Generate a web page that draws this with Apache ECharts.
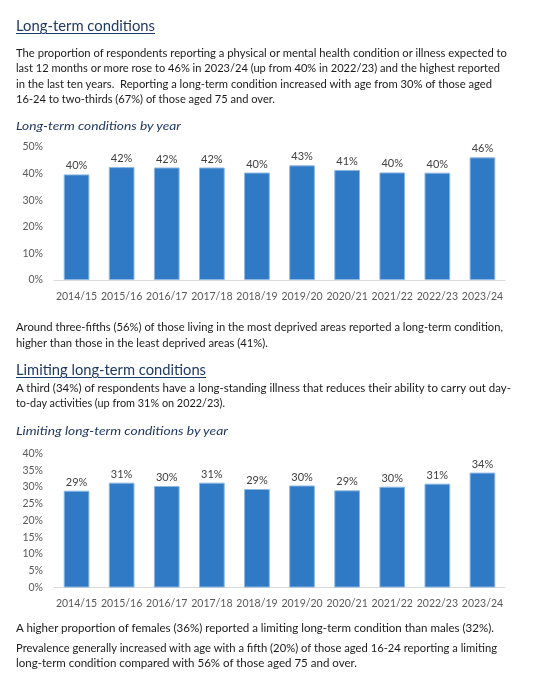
<!DOCTYPE html>
<html><head><meta charset="utf-8">
<script src="https://cdn.jsdelivr.net/npm/echarts@6/dist/echarts.min.js"></script>
<style>
html,body{margin:0;padding:0;background:#fff;}
#page{position:relative;width:533px;height:676px;overflow:hidden;}
#chart{position:absolute;left:0;top:0;width:533px;height:676px;}
.ln{position:absolute;left:16px;white-space:nowrap;font-family:Lato,"Noto Sans",sans-serif;color:#1a1a1a;transform-origin:0 50%;display:inline-block;}
.body{font-size:11px;line-height:14px;}
.ttl{font-size:15.5px;line-height:18px;color:#1f3864;text-decoration:underline;text-decoration-thickness:1px;text-underline-offset:2px;}
.sub{font-size:12px;line-height:15px;color:#1f3864;font-style:italic;}
</style></head>
<body><div id="page">
<div id="chart"></div>
<div class="ln ttl" data-w="139" style="top:16px">Long-term conditions</div>
<div class="ln body" data-w="491" style="top:46px">The proportion of respondents reporting a physical or mental health condition or illness expected to</div>
<div class="ln body" data-w="484" style="top:61.4px">last 12 months or more rose to 46% in 2023/24 (up from 40% in 2022/23) and the highest reported</div>
<div class="ln body" data-w="476" style="top:76.8px">in the last ten years.&nbsp; Reporting a long-term condition increased with age from 30% of those aged</div>
<div class="ln body" data-w="259" style="top:92.2px">16-24 to two-thirds (67%) of those aged 75 and over.</div>
<div class="ln sub" data-w="165" style="top:117.5px">Long-term conditions by year</div>
<div class="ln body" data-w="487" style="top:319.7px">Around three-fifths (56%) of those living in the most deprived areas reported a long-term condition,</div>
<div class="ln body" data-w="252" style="top:335.5px">higher than those in the least deprived areas (41%).</div>
<div class="ln ttl" data-w="190" style="top:360px">Limiting long-term conditions</div>
<div class="ln body" data-w="495" style="top:381px">A third (34%) of respondents have a long-standing illness that reduces their ability to carry out day-</div>
<div class="ln body" data-w="209" style="top:396.3px">to-day activities (up from 31% on 2022/23).</div>
<div class="ln sub" data-w="212" style="top:422.5px">Limiting long-term conditions by year</div>
<div class="ln body" data-w="478" style="top:621px">A higher proportion of females (36%) reported a limiting long-term condition than males (32%).</div>
<div class="ln body" data-w="481" style="top:641px">Prevalence generally increased with age with a fifth (20%) of those aged 16-24 reporting a limiting</div>
<div class="ln body" data-w="341" style="top:656.4px">long-term condition compared with 56% of those aged 75 and over.</div>
</div>
<script>
const years = ['2014/15','2015/16','2016/17','2017/18','2018/19','2019/20','2020/21','2021/22','2022/23','2023/24'];
const longTerm = [39.7, 42.45, 42.3, 42.3, 40.4, 43.1, 41.4, 40.45, 40.35, 46.1];
const limiting = [28.9, 31.3, 30.3, 31.3, 29.4, 30.45, 29.0, 30.1, 31.0, 34.3];
const longTermAxis = {min: 0, max: 50, interval: 10};
const limitingAxis = {min: 0, max: 40, interval: 5};

const FONT = 'Lato, "Noto Sans", sans-serif';
const barColor = '#3079c4';
function xAxis(i){
  return {type:'category', gridIndex:i, data:years,
    axisLine:{lineStyle:{color:'#d9d9d9', width:1}},
    axisTick:{show:false},
    axisLabel:{color:'#595959', fontFamily:FONT, fontSize:10.5, margin:11, interval:0}};
}
function yAxis(i, ax){
  return {type:'value', gridIndex:i, min:ax.min, max:ax.max, interval:ax.interval,
    splitLine:{show:false}, axisLine:{show:false}, axisTick:{show:false},
    axisLabel:{color:'#595959', fontFamily:FONT, fontSize:10.5, margin:11, formatter:'{value}%'}};
}
function series(i, data){
  return {type:'bar', xAxisIndex:i, yAxisIndex:i, data:data, barWidth:'57%',
    itemStyle:{color:barColor, borderColor:'#8db8e4', borderWidth:1},
    label:{show:true, position:'top', distance:3, color:'#404040', fontFamily:FONT, fontSize:11,
      formatter:p => Math.round(p.value) + '%'},
    emphasis:{disabled:true}};
}
const chart = echarts.init(document.getElementById('chart'), null, {renderer:'canvas'});
chart.setOption({
  animation:false,
  grid:[
    {left:54, width:451, top:147, height:133},
    {left:54, width:451, top:453.5, height:134}
  ],
  xAxis:[xAxis(0), xAxis(1)],
  yAxis:[yAxis(0, longTermAxis), yAxis(1, limitingAxis)],
  series:[series(0, longTerm), series(1, limiting)]
});
function fit(){
  document.querySelectorAll('.ln').forEach(el=>{
    el.style.transform='none';
    const w = el.getBoundingClientRect().width;
    const t = parseFloat(el.dataset.w);
    if (w>0) el.style.transform = 'scaleX(' + (t/w) + ')';
  });
}
fit();
if (document.fonts && document.fonts.ready) document.fonts.ready.then(fit);
</script>
</body></html>
